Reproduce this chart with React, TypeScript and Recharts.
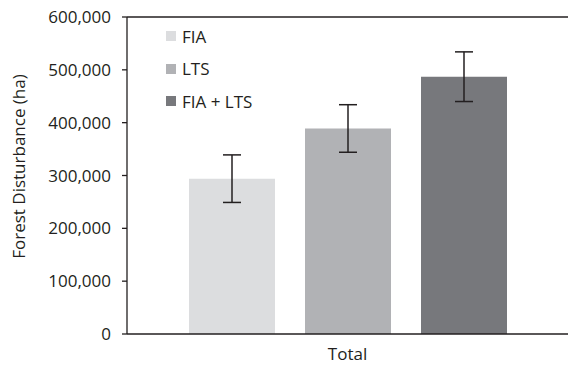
import {
  BarChart,
  Bar,
  XAxis,
  YAxis,
  ErrorBar,
  Legend,
  ReferenceLine,
} from "recharts";

const categorias = ["Total"];
const fia = [294000];
const lts = [389000];
const fiaLts = [487000];
const erroFia = [45000];
const erroLts = [45000];
const erroFiaLts = [47000];
const ticksY = [0, 100000, 200000, 300000, 400000, 500000, 600000];

const series = [
  { key: "fia", nome: "FIA", cor: "#dcdddf" },
  { key: "lts", nome: "LTS", cor: "#b1b2b5" },
  { key: "fiaLts", nome: "FIA + LTS", cor: "#77787c" },
];

const dados = categorias.map((c, i) => ({
  categoria: c,
  fia: fia[i],
  lts: lts[i],
  fiaLts: fiaLts[i],
  erroFia: erroFia[i],
  erroLts: erroLts[i],
  erroFiaLts: erroFiaLts[i],
}));

const TEXTO = "#231f20";
const FONTE = "'Open Sans', sans-serif";

// legenda vertical com quadradinhos, dentro da área do gráfico
const LegendaCustom = () => (
  <div style={{ fontFamily: FONTE, fontSize: 17, color: TEXTO }}>
    {series.map((s) => (
      <div
        key={s.key}
        style={{ display: "flex", alignItems: "center", height: 32.5 }}
      >
        <span
          style={{
            width: 10,
            height: 10,
            background: s.cor,
            display: "inline-block",
            marginRight: 6,
          }}
        />
        <span>{s.nome}</span>
      </div>
    ))}
  </div>
);

export default function App() {
  return (
    <div style={{ position: "absolute", left: 0, top: 0, background: "#fff" }}>
      <BarChart
        width={568}
        height={367}
        data={dados}
        margin={{ top: 17, right: 0, left: 0, bottom: 0 }}
        barSize={86}
        barGap={30}
      >
        <XAxis
          dataKey="categoria"
          height={33}
          tickLine={false}
          tickSize={0}
          tickMargin={14}
          axisLine={{ stroke: TEXTO, strokeWidth: 1.3 }}
          tick={{ fill: TEXTO, fontSize: 17, fontFamily: FONTE }}
        />
        <YAxis
          width={127}
          domain={[0, 600000]}
          ticks={ticksY}
          interval={0}
          tickSize={5}
          tickMargin={11}
          tickFormatter={(v: number) => v.toLocaleString("en-US")}
          axisLine={{ stroke: TEXTO, strokeWidth: 1.3 }}
          tickLine={{ stroke: TEXTO, strokeWidth: 1.3 }}
          tick={{ fill: TEXTO, fontSize: 17, fontFamily: FONTE }}
          label={{
            content: (props: any) => {
              const { viewBox } = props;
              // rótulo um pouco acima do centro, como no original
              const cx = viewBox.x + 18;
              const cy = viewBox.y + viewBox.height / 2 - 9;
              return (
                <text
                  x={cx}
                  y={cy}
                  transform={`rotate(-90, ${cx}, ${cy})`}
                  textAnchor="middle"
                  dominantBaseline="central"
                  fill={TEXTO}
                  fontSize={17}
                  fontFamily={FONTE}
                >
                  Forest Disturbance (ha)
                </text>
              );
            },
          }}
        />
        <ReferenceLine y={600000} stroke={TEXTO} strokeWidth={1.3} />
        <Legend
          layout="vertical"
          verticalAlign="middle"
          align="center"
          content={<LegendaCustom />}
          wrapperStyle={{ left: 166, top: 20, width: "auto" }}
        />
        <Bar dataKey="fia" name="FIA" fill={series[0].cor} isAnimationActive={false}>
          <ErrorBar dataKey="erroFia" width={9} stroke={TEXTO} strokeWidth={1.5} />
        </Bar>
        <Bar dataKey="lts" name="LTS" fill={series[1].cor} isAnimationActive={false}>
          <ErrorBar dataKey="erroLts" width={9} stroke={TEXTO} strokeWidth={1.5} />
        </Bar>
        <Bar dataKey="fiaLts" name="FIA + LTS" fill={series[2].cor} isAnimationActive={false}>
          <ErrorBar dataKey="erroFiaLts" width={9} stroke={TEXTO} strokeWidth={1.5} />
        </Bar>
      </BarChart>
    </div>
  );
}
